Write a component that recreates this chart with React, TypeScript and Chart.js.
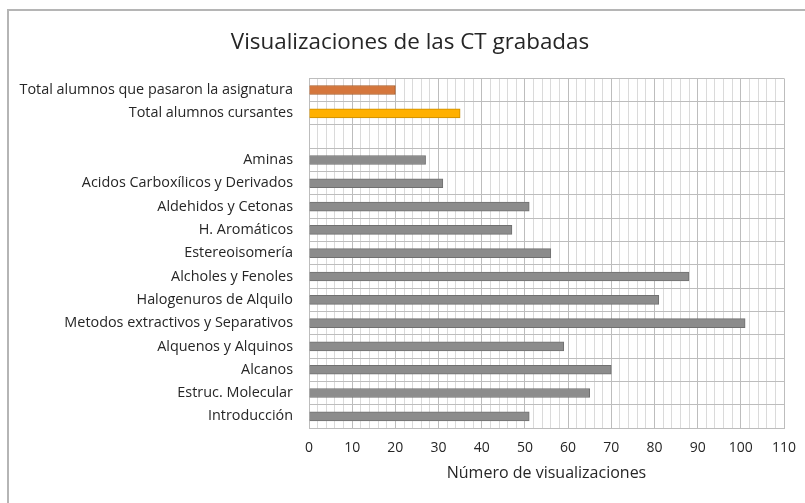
import { useEffect, useRef } from 'react';
import { Chart, registerables } from 'chart.js';

Chart.register(...registerables);

const title = 'Visualizaciones de las CT grabadas';
const axisTitle = 'Número de visualizaciones';

const categories = [
  'Total alumnos que pasaron la asignatura',
  'Total alumnos cursantes',
  '',
  'Aminas',
  'Acidos Carboxílicos y Derivados',
  'Aldehidos y Cetonas',
  'H. Aromáticos',
  'Estereoisomería',
  'Alcholes y Fenoles',
  'Halogenuros de Alquilo',
  'Metodos extractivos y Separativos',
  'Alquenos y Alquinos',
  'Alcanos',
  'Estruc. Molecular',
  'Introducción',
];

const values: (number | null)[] = [20, 35, null, 27, 31, 51, 47, 56, 88, 81, 101, 59, 70, 65, 51];

const fillColors = [
  '#d5773d', '#ffb000', '#8c8c8c', '#8c8c8c', '#8c8c8c', '#8c8c8c', '#8c8c8c', '#8c8c8c',
  '#8c8c8c', '#8c8c8c', '#8c8c8c', '#8c8c8c', '#8c8c8c', '#8c8c8c', '#8c8c8c',
];
const edgeColors = [
  '#a95a24', '#c98d00', '#707070', '#707070', '#707070', '#707070', '#707070', '#707070',
  '#707070', '#707070', '#707070', '#707070', '#707070', '#707070', '#707070',
];

const xMin = 0;
const xMax = 110;
const xMinorStep = 2;
const xMajorStep = 10;

const FONT = '"Open Sans", Lato, sans-serif';
const TEXT = '#262626';

// shifts the title block so it is centred like the original (a little right of the page centre)
const titleShift = {
  id: 'titleShift',
  afterLayout(chart: any) {
    const t = chart.titleBlock;
    if (t) {
      t.left = 36;
    }
  },
};

export default function App() {
  const ref = useRef<HTMLCanvasElement | null>(null);

  useEffect(() => {
    if (!ref.current) return;
    const chart = new Chart(ref.current, {
      type: 'bar',
      data: {
        labels: categories,
        datasets: [
          {
            data: values,
            backgroundColor: fillColors,
            borderColor: edgeColors,
            borderWidth: 1,
            barThickness: 9,
          },
        ],
      },
      plugins: [titleShift],
      options: {
        indexAxis: 'y',
        responsive: false,
        animation: false,
        devicePixelRatio: 1,
        layout: { padding: { left: 0, right: 21, top: 0, bottom: 0 } },
        plugins: {
          legend: { display: false },
          tooltip: { enabled: false },
          title: {
            display: true,
            text: title,
            color: TEXT,
            font: { family: FONT, size: 22.4, weight: 'normal' },
            padding: { top: 29, bottom: 22.5 },
          },
        },
        scales: {
          x: {
            min: xMin,
            max: xMax,
            ticks: {
              stepSize: xMinorStep,
              autoSkip: false,
              maxRotation: 0,
              padding: 8,
              color: TEXT,
              font: { family: FONT, size: 14 },
              callback: (v: any) => (Number(v) % xMajorStep === 0 ? String(v) : ''),
            },
            grid: {
              drawTicks: true,
              tickLength: 4,
              tickColor: 'rgba(0,0,0,0)',
              color: (ctx: any) =>
                ctx.tick && ctx.tick.value % xMajorStep === 0 ? '#bdbdbd' : '#dadada',
            },
            border: { display: true, color: '#bdbdbd' },
            title: {
              display: true,
              text: axisTitle,
              color: TEXT,
              font: { family: FONT, size: 16 },
              padding: { top: 4, bottom: 20 },
            },
            afterFit: (s: any) => {
              s.height = 75;
            },
          },
          y: {
            ticks: {
              autoSkip: false,
              padding: 16,
              color: TEXT,
              font: { family: FONT, size: 14.4 },
            },
            grid: { drawTicks: false, offset: true, color: '#bdbdbd' },
            border: { display: true, color: '#bdbdbd' },
            afterFit: (s: any) => {
              s.width = 309;
            },
          },
        },
      },
    });
    return () => chart.destroy();
  }, []);

  return (
    <div style={{ position: 'fixed', left: 0, top: 0, width: 805, height: 503, background: '#fff' }}>
      <canvas ref={ref} width={805} height={503} style={{ position: 'absolute', left: 0, top: 0 }} />
      <div
        style={{
          position: 'absolute',
          left: 7,
          top: 9,
          right: 0,
          bottom: 0,
          borderTop: '2px solid #b5b5b5',
          borderLeft: '2px solid #b5b5b5',
          pointerEvents: 'none',
        }}
      />
    </div>
  );
}
